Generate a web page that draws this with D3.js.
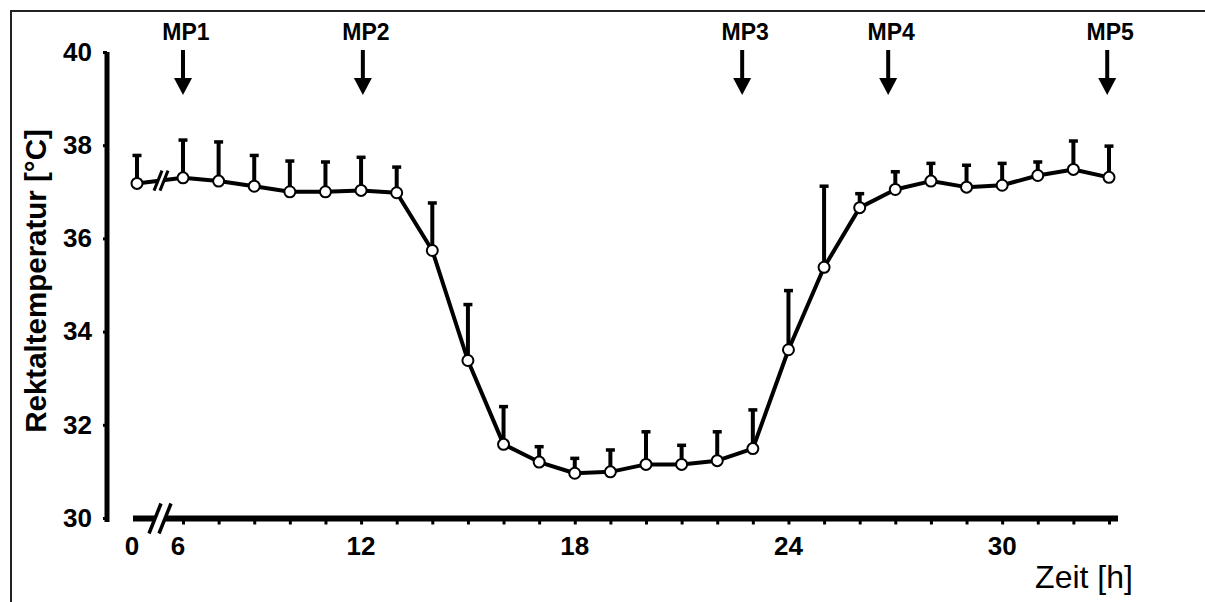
<!DOCTYPE html>
<html>
<head>
<meta charset="utf-8">
<script src="https://cdn.jsdelivr.net/npm/d3@7/dist/d3.min.js"></script>
<style>
  html, body { margin: 0; padding: 0; background: #fff; }
  svg { display: block; font-family: "Liberation Sans", Arial, sans-serif; }
</style>
</head>
<body>
<svg id="chart" width="1205" height="602"></svg>
<script>
// ---- data ----
const hours = [0, 6, 7, 8, 9, 10, 11, 12, 13, 14, 15, 16, 17, 18, 19, 20, 21, 22, 23, 24, 25, 26, 27, 28, 29, 30, 31, 32];
const meanTemp = [37.18, 37.30, 37.23, 37.12, 37.00, 37.00, 37.03, 36.98, 35.74, 33.38, 31.58, 31.20, 30.96, 30.99,
                  31.15, 31.15, 31.23, 31.49, 33.61, 35.38, 36.66, 37.05, 37.23, 37.10, 37.14, 37.35, 37.48, 37.31];
const sdTemp = [0.60, 0.81, 0.84, 0.66, 0.66, 0.64, 0.71, 0.55, 1.02, 1.20, 0.81, 0.33, 0.32, 0.47,
                0.70, 0.41, 0.62, 0.83, 1.27, 1.74, 0.30, 0.38, 0.38, 0.47, 0.47, 0.29, 0.61, 0.67];
const yTicks = [30, 32, 34, 36, 38, 40];
const xMinorTickHours = d3.range(6, 33);
const xTickLabels = ["0", "6", "12", "18", "24", "30"];
const xTickLabelHours = [0, 6, 11, 17, 23, 29];
const mpLabels = ["MP1", "MP2", "MP3", "MP4", "MP5"];
const mpHours = [6, 11.05, 21.7, 25.8, 31.95];
const yTitle = "Rektaltemperatur [°C]";
const xTitle = "Zeit [h]";

// ---- scales ----
const x = d3.scaleLinear().domain([0, 6, 32]).range([137, 183, 1109]);
const y = d3.scaleLinear().domain([30, 40]).range([518, 52]);

const svg = d3.select("#chart");

// frame (top and left)
svg.append("path").attr("d", "M11,602V11H1205").attr("fill", "none").attr("stroke", "#222").attr("stroke-width", 2);

// ---- y axis ----
const yAxisX = 107;
const gy = svg.append("g").attr("transform", `translate(${yAxisX},0)`)
  .call(d3.axisLeft(y).tickValues(yTicks).tickSize(4).tickSizeOuter(0).tickPadding(11));
gy.select(".domain").remove();
gy.selectAll(".tick line").attr("stroke", "#000").attr("stroke-width", 3);
gy.selectAll(".tick text").attr("font-size", 26).attr("font-weight", "bold").attr("fill", "#000")
  .attr("font-family", "Liberation Sans, Arial, sans-serif");
gy.append("line").attr("x1", 0).attr("x2", 0).attr("y1", y(40)).attr("y2", y(30) + 4)
  .attr("stroke", "#000").attr("stroke-width", 5);

// ---- x axis ----
const axisY = 518.5;
const gx = svg.append("g").attr("transform", `translate(0,${axisY})`)
  .call(d3.axisBottom(x).tickValues(xMinorTickHours).tickSize(6).tickSizeOuter(0).tickFormat(""));
gx.select(".domain").remove();
gx.selectAll(".tick line").attr("stroke", "#000").attr("stroke-width", 3);
gx.append("line").attr("x1", x(0) - 4).attr("x2", x(32) + 9).attr("y1", 0).attr("y2", 0)
  .attr("stroke", "#000").attr("stroke-width", 6);

// axis break
function breakMark(g, cx, cy, h, gap, sw) {
  const dx = h * 0.4;
  g.append("polygon")
    .attr("points", [[cx - gap / 2 - dx, cy + h], [cx - gap / 2 + dx, cy - h], [cx + gap / 2 + dx, cy - h], [cx + gap / 2 - dx, cy + h]].join(" "))
    .attr("fill", "#fff");
  [-gap / 2, gap / 2].forEach(o => {
    g.append("line").attr("x1", cx + o - dx).attr("y1", cy + h).attr("x2", cx + o + dx).attr("y2", cy - h)
      .attr("stroke", "#000").attr("stroke-width", sw);
  });
}
const breakX = (x(0) + x(6)) / 2;
breakMark(svg.append("g"), breakX, axisY, 15, 10, 3.5);

// x tick labels
svg.append("g").selectAll("text").data(xTickLabels).join("text")
  .attr("x", (d, i) => x(xTickLabelHours[i]) - (i < 2 ? 5 : 0))
  .attr("y", 555)
  .attr("text-anchor", "middle")
  .attr("font-size", 26).attr("font-weight", "bold")
  .text(d => d);

// axis titles
svg.append("text").attr("x", 1084).attr("y", 588).attr("text-anchor", "middle")
  .attr("font-size", 32).text(xTitle);
svg.append("text").attr("transform", `translate(46,281) rotate(-90)`).attr("text-anchor", "middle")
  .attr("font-size", 29.5).attr("font-weight", "bold").text(yTitle);

// ---- MP markers ----
const mp = svg.append("g").selectAll("g").data(mpLabels).join("g")
  .attr("transform", (d, i) => `translate(${x(mpHours[i])},0)`);
mp.append("text").attr("x", 3).attr("y", 40).attr("text-anchor", "middle")
  .attr("font-size", 23).attr("font-weight", "bold").text(d => d);
mp.append("line").attr("x1", 0).attr("x2", 0).attr("y1", 50).attr("y2", 82)
  .attr("stroke", "#000").attr("stroke-width", 4);
mp.append("path").attr("d", "M-9,78L9,78L0,95Z").attr("fill", "#000");

// ---- data ----
const pts = hours.map((h, i) => ({ h, m: meanTemp[i], sd: sdTemp[i] }));

// error bars (upper)
const eb = svg.append("g").selectAll("g").data(pts).join("g");
eb.append("line").attr("x1", d => x(d.h)).attr("x2", d => x(d.h))
  .attr("y1", d => y(d.m)).attr("y2", d => y(d.m + d.sd))
  .attr("stroke", "#000").attr("stroke-width", 4);
eb.append("line").attr("x1", d => x(d.h) - 4.5).attr("x2", d => x(d.h) + 4.5)
  .attr("y1", d => y(d.m + d.sd)).attr("y2", d => y(d.m + d.sd))
  .attr("stroke", "#000").attr("stroke-width", 3.5);

// line
const line = d3.line().x(d => x(d.h)).y(d => y(d.m));
svg.append("path").datum(pts).attr("d", line).attr("fill", "none")
  .attr("stroke", "#000").attr("stroke-width", 4).attr("stroke-linejoin", "round");

// break on data line
const bY = (y(pts[0].m) + y(pts[1].m)) / 2;
breakMark(svg.append("g"), breakX + 1, bY, 10, 6, 3);

// points
svg.append("g").selectAll("circle").data(pts).join("circle")
  .attr("cx", d => x(d.h)).attr("cy", d => y(d.m)).attr("r", 5.5)
  .attr("fill", "#fff").attr("stroke", "#000").attr("stroke-width", 2);
</script>
</body>
</html>
